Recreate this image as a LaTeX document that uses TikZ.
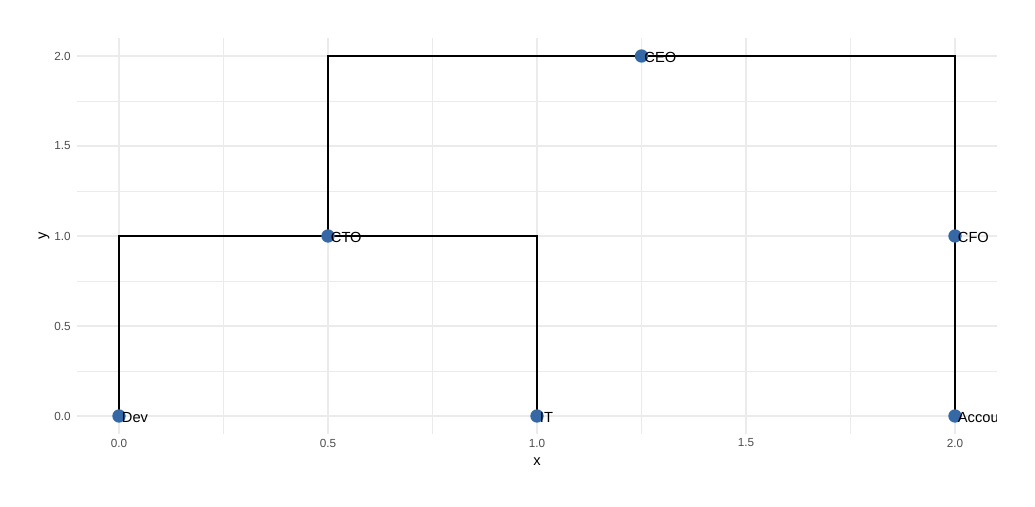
\documentclass[tikz,border=0pt]{standalone}
\usepackage{fontspec}
\setmainfont{Liberation Sans}
\usetikzlibrary{positioning}

\definecolor{gridgrey}{HTML}{EBEBEB}
\definecolor{tickgrey}{HTML}{4D4D4D}
\definecolor{pointblue}{RGB}{53,104,165}

\begin{document}
\begin{tikzpicture}[
    x = 313.5pt, % one unit along x
    y = 135pt, % one unit along y
    font = \fontsize{11}{13}\selectfont,
    line cap = butt
    ]

    \tikzset{
    emp/.style = {circle, inner sep = 0pt, minimum size = 10pt},
    dot/.style = {fill = pointblue},
    lbl/.style = {anchor = west, inner sep = 0pt, xshift = 2pt, yshift = -0.8pt},
    link/.style = {draw = black, line width = 0.85pt},
    majgrid/.style = {draw = gridgrey, line width = 0.8pt},
    mingrid/.style = {draw = gridgrey, line width = 0.45pt},
    tick/.style = {font = \fontsize{8.8}{10}\selectfont, text = tickgrey, inner sep = 0pt}
    }

    \useasboundingbox (-0.2847,-0.5056) rectangle (2.1914,2.3111);

    % grid
    \foreach \v in {0.25,0.75,1.25,1.75} {
        \draw[mingrid] (\v,-0.1) -- (\v,2.1);
        \draw[mingrid] (-0.1,\v) -- (2.1,\v);
    }
    \foreach \v in {0,0.5,1,1.5,2} {
        \draw[majgrid] (\v,-0.1) -- (\v,2.1);
        \draw[majgrid] (-0.1,\v) -- (2.1,\v);
    }

    % axis labels
    \foreach \v/\t in {0/0.0,0.5/0.5,1/1.0,1.5/1.5,2/2.0} {
        \node[tick] at (\v,-0.15) {\t};
        \node[tick, anchor = east] at (-0.1148,\v) {\t};
    }
    \node (xtitle) at (1,-0.2556) {x};
    \node[rotate = 90] (ytitle) at (-0.1794,1) {y};

    % people
    \node[emp] (ceo) at (1.25,2) {};
    \node[emp] (cto) at (0.5,1) {};
    \node[emp] (cfo) at (2,1) {};
    \node[emp] (dev) at (0,0) {};
    \node[emp] (it) at (1,0) {};
    \node[emp] (accou) at (2,0) {};

    % reporting lines
    \path[link] (ceo.center) -| (cto.center);
    \path[link] (ceo.center) -| (cfo.center);
    \path[link] (cto.center) -| (dev.center);
    \path[link] (cto.center) -| (it.center);
    \path[link] (cfo.center) -- (accou.center);

    % points over the lines
    \foreach \n in {ceo,cto,cfo,dev,it,accou}
        \fill[dot] (\n.center) circle (5pt);

    \begin{scope}
    \clip (-0.1,-0.1) rectangle (2.1,2.1);
    \node[lbl] (ceo-l) at (ceo.center) {CEO};
    \node[lbl] (cto-l) at (cto.center) {CTO};
    \node[lbl] (cfo-l) at (cfo.center) {CFO};
    \node[lbl] (dev-l) at (dev.center) {Dev};
    \node[lbl] (it-l) at (it.center) {IT};
    \node[lbl] (accou-l) at (accou.center) {Accou};
    \end{scope}
\end{tikzpicture}
\end{document}
